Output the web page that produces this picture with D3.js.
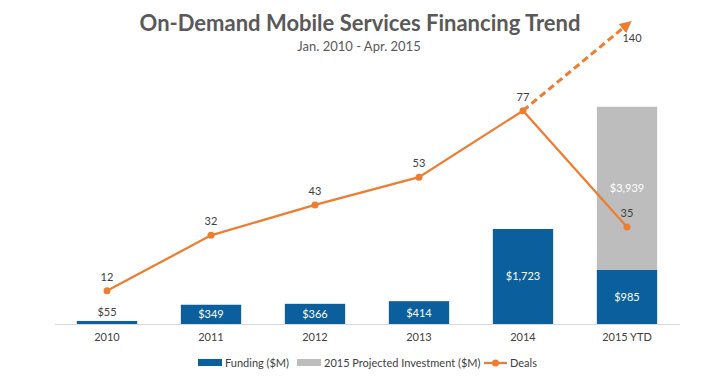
<!DOCTYPE html>
<html><head><meta charset="utf-8">
<script src="https://cdn.jsdelivr.net/npm/d3@7"></script>
<style>body{margin:0;background:#fff;}svg{display:block;font-family:Lato,"Open Sans",sans-serif;}</style>
</head><body><svg id="c" width="720" height="381"></svg>
<script>
const categories = ["2010","2011","2012","2013","2014","2015 YTD"];
const funding = [55, 349, 366, 414, 1723, 985];
// 2015 projected investment total (stack top), shown as label
const projectedTotal = [0, 0, 0, 0, 0, 3939];
const deals = [12, 32, 43, 53, 77, 35];
const projectedDealsLabel = 140;
const projectionArrow = [{cat:"2014", v:77}, {cat:"2015 YTD", v:108}];
const seriesNames = ["Funding ($M)", "2015 Projected Investment ($M)", "Deals"];

const C = {blue:"#0a5f9c", gray:"#bdbdbd", orange:"#ed7d31", text:"#404040", title:"#595959", axis:"#d9d9d9"};
const svg = d3.select("#c");
const base = 324;

const x = d3.scaleBand().domain(categories).range([55,679]).paddingInner(0.42).paddingOuter(0.21);
const y = d3.scaleLinear().domain([0,5000]).range([base, base-5000*0.05515]);
const yd = d3.scaleLinear().domain([0,100]).range([base, base-277]);

// title
svg.append("text").attr("x",360).attr("y",31).attr("text-anchor","middle")
  .attr("font-size",22).attr("font-weight","bold").attr("fill",C.title)
  .text("On-Demand Mobile Services Financing Trend");
svg.append("text").attr("x",359).attr("y",51).attr("text-anchor","middle")
  .attr("font-size",13).attr("fill",C.title).text("Jan. 2010 - Apr. 2015");

// axis
const xAxis = svg.append("g").attr("transform",`translate(0,${base})`)
  .call(d3.axisBottom(x).tickSize(0).tickPadding(9));
xAxis.select(".domain").attr("stroke",C.axis).attr("d","M55,0.5H680");
xAxis.selectAll("text").attr("font-size",11).attr("fill",C.text).attr("font-family","Lato, sans-serif");

const fmt = d3.format("$,");
// funding bars
svg.append("g").selectAll("rect").data(categories).join("rect")
  .attr("x",d=>x(d)).attr("width",x.bandwidth())
  .attr("y",(d,i)=>y(funding[i])).attr("height",(d,i)=>base-y(funding[i]))
  .attr("fill",C.blue);
// projected (segment from funding up to projected total)
const projCats = categories.filter((d,i)=>projectedTotal[i]>0);
svg.append("g").selectAll("rect").data(projCats).join("rect")
  .attr("x",d=>x(d)).attr("width",x.bandwidth())
  .attr("y",d=>y(projectedTotal[categories.indexOf(d)]))
  .attr("height",d=>{const i=categories.indexOf(d);return y(funding[i])-y(projectedTotal[i]);})
  .attr("fill",C.gray);

// bar labels
svg.append("g").selectAll("text").data(categories).join("text")
  .attr("x",d=>x(d)+x.bandwidth()/2)
  .attr("y",(d,i)=> funding[i]<200 ? y(funding[i])-5 : (y(funding[i])+base)/2+4)
  .attr("text-anchor","middle").attr("font-size",11)
  .attr("fill",(d,i)=>funding[i]<200?C.text:"#fff")
  .text((d,i)=>fmt(funding[i]));
svg.append("g").selectAll("text").data(projCats).join("text")
  .attr("x",d=>x(d)+x.bandwidth()/2)
  .attr("y",d=>{const i=categories.indexOf(d);return (y(funding[i])+y(projectedTotal[i]))/2+4;})
  .attr("text-anchor","middle").attr("font-size",11).attr("fill","#fff")
  .text(d=>fmt(projectedTotal[categories.indexOf(d)]));

// projection arrow
svg.append("defs").append("marker").attr("id","arr").attr("viewBox","0 0 10 10")
  .attr("refX",5).attr("refY",5).attr("markerWidth",4).attr("markerHeight",4).attr("orient","auto")
  .append("path").attr("d","M0,0L10,5L0,10z").attr("fill",C.orange);
const cx = d=>x(d)+x.bandwidth()/2;
svg.append("path").datum(projectionArrow)
  .attr("d",d3.line().x(d=>cx(d.cat)).y(d=>yd(d.v)))
  .attr("fill","none").attr("stroke",C.orange).attr("stroke-width",3)
  .attr("stroke-dasharray","7,4").attr("marker-end","url(#arr)");
svg.append("text").attr("x",cx("2015 YTD")+5).attr("y",yd(projectionArrow[1].v)+17)
  .attr("text-anchor","middle").attr("font-size",11).attr("fill",C.text).text(projectedDealsLabel);

// deals line
svg.append("path").datum(deals)
  .attr("d",d3.line().x((d,i)=>cx(categories[i])).y(d=>yd(d)))
  .attr("fill","none").attr("stroke",C.orange).attr("stroke-width",2.25);
svg.append("g").selectAll("circle").data(deals).join("circle")
  .attr("cx",(d,i)=>cx(categories[i])).attr("cy",d=>yd(d)).attr("r",3.5).attr("fill",C.orange);
svg.append("g").selectAll("text").data(deals).join("text")
  .attr("x",(d,i)=>cx(categories[i])).attr("y",d=>yd(d)-10)
  .attr("text-anchor","middle").attr("font-size",11).attr("fill",C.text).text(d=>d);

// legend
const lg = svg.append("g").attr("transform","translate(0,363)");
lg.append("rect").attr("x",198).attr("y",-4).attr("width",24).attr("height",7).attr("fill",C.blue);
lg.append("text").attr("x",225).attr("y",4).attr("font-size",11).attr("fill",C.text).text(seriesNames[0]);
lg.append("rect").attr("x",297).attr("y",-4).attr("width",24).attr("height",7).attr("fill",C.gray);
lg.append("text").attr("x",324).attr("y",4).attr("font-size",11).attr("fill",C.text).text(seriesNames[1]);
lg.append("line").attr("x1",484).attr("x2",507).attr("y1",0).attr("y2",0).attr("stroke",C.orange).attr("stroke-width",2.25);
lg.append("circle").attr("cx",495.5).attr("cy",0).attr("r",3.5).attr("fill",C.orange);
lg.append("text").attr("x",510).attr("y",4).attr("font-size",11).attr("fill",C.text).text(seriesNames[2]);
</script></body></html>
